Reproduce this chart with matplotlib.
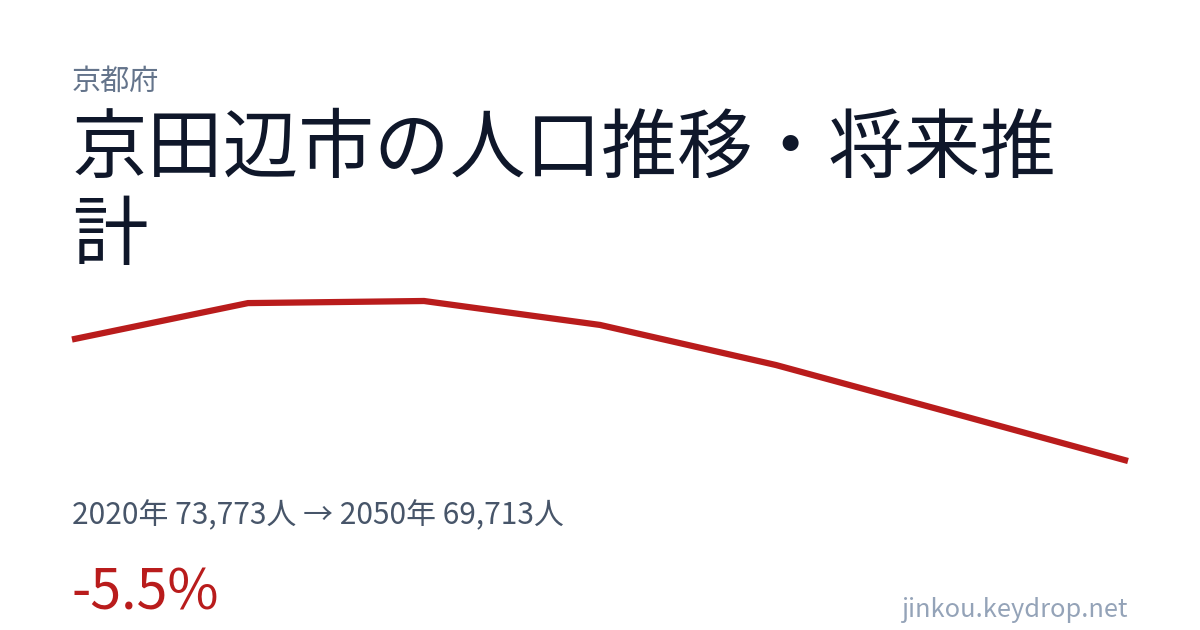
import matplotlib
matplotlib.use("Agg")
import matplotlib.pyplot as plt

# Data
years = [2020, 2025, 2030, 2035, 2040, 2045, 2050]
population = [73773, 74990, 75060, 74260, 72920, 71320, 69713]

prefecture = "京都府"
title_line1 = "京田辺市の人口推移・将来推"
title_line2 = "計"
stats_text = "2020年 73,773人 → 2050年 69,713人"
change_text = "-5.5%"
site_text = "jinkou.keydrop.net"

plt.rcParams['font.family'] = ['Noto Sans CJK JP', 'DejaVu Sans']

W, H = 1200, 630
fig = plt.figure(figsize=(12, 6.3), dpi=100)
fig.patch.set_facecolor("white")

def fx(px):
    return px / W

def fy(py):
    return 1 - py / H

# line chart axes: x from 72 to 1128, y from 301 (max) to 461 (min)
ax = fig.add_axes([fx(72), fy(461), fx(1128) - fx(72), (461 - 301) / H])
ax.plot(years, population, color="#b91c1c", linewidth=4.5, solid_joinstyle="miter",
        solid_capstyle="butt", clip_on=False)
ax.set_xlim(min(years), max(years))
ax.set_ylim(min(population), max(population))
ax.axis("off")

fig.text(fx(72), fy(67), prefecture, fontsize=21, color="#64748b", va="top", ha="left")
fig.text(fx(72), fy(112), title_line1, fontsize=54.5, color="#0f172a", va="top", ha="left")
fig.text(fx(72), fy(199), title_line2, fontsize=54.5, color="#0f172a", va="top", ha="left")
fig.text(fx(72), fy(500), stats_text, fontsize=21.5, color="#475569", va="top", ha="left")
fig.text(fx(72), fy(565), change_text, fontsize=40, color="#b91c1c", va="top", ha="left")
fig.text(fx(1128), fy(597), site_text, fontsize=18.3, color="#94a3b8", va="top", ha="right")

fig.savefig("out.png", dpi=100, facecolor="white")
